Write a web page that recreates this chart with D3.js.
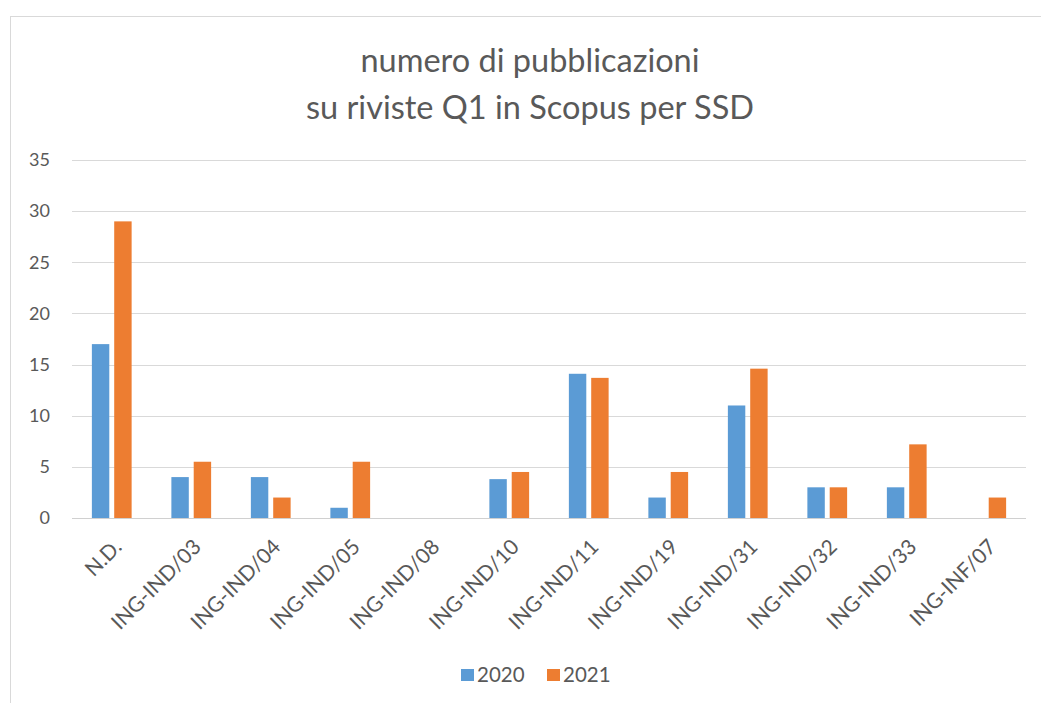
<!DOCTYPE html>
<html><head><meta charset="utf-8">
<script src="https://cdn.jsdelivr.net/npm/d3@7"></script>
<style>
html,body{margin:0;padding:0;background:#fff;}
svg{display:block;font-family:Lato,"Open Sans",sans-serif;}
</style></head>
<body>
<svg id="chart" width="1041" height="703"></svg>
<script>
const categories = ["N.D.","ING-IND/03","ING-IND/04","ING-IND/05","ING-IND/08","ING-IND/10","ING-IND/11","ING-IND/19","ING-IND/31","ING-IND/32","ING-IND/33","ING-INF/07"];
const series = ["2020","2021"];
const values2020 = [17, 4, 4, 1, 0, 3.8, 14.1, 2, 11, 3, 3, 0];
const values2021 = [29, 5.5, 2, 5.5, 0, 4.5, 13.7, 4.5, 14.6, 3, 7.2, 2];
const yTicks = [0,5,10,15,20,25,30,35];
const titleLines = ["numero di pubblicazioni","su riviste Q1 in Scopus per SSD"];
const colors = ["#5B9BD5","#ED7D31"];

const svg = d3.select("#chart");
const textColor = "#595959";

// outer chart frame (cropped at right/bottom like the reference)
svg.append("rect").attr("x",10.5).attr("y",16.5).attr("width",1100).attr("height",800)
  .attr("fill","#fff").attr("stroke","#D9D9D9").attr("stroke-width",1);

const plot = {left:72, right:1026, top:160, bottom:518};

const y = d3.scaleLinear().domain([0,35]).range([plot.bottom, plot.top]);
const x0 = d3.scaleBand().domain(categories).range([plot.left, plot.right]).padding(0);
const bw = x0.bandwidth();
const x1 = d3.scaleBand().domain(series).range([bw*0.25, bw*0.75]).paddingInner(0.22).paddingOuter(0);

// gridlines
svg.append("g").selectAll("line").data(yTicks).join("line")
  .attr("x1",plot.left).attr("x2",plot.right)
  .attr("y1",d=>Math.round(y(d))+0.5).attr("y2",d=>Math.round(y(d))+0.5)
  .attr("stroke",d=>d===0?"#D0D0D0":"#D9D9D9").attr("stroke-width",1);

// y tick labels
svg.append("g").selectAll("text").data(yTicks).join("text")
  .attr("x",50).attr("y",d=>y(d)).attr("dy","0.35em")
  .attr("text-anchor","end").attr("fill",textColor)
  .style("font-size","18px").text(d=>d);

// bars
const data = categories.map((c,i)=>({cat:c, vals:[values2020[i], values2021[i]]}));
const groups = svg.append("g").selectAll("g").data(data).join("g")
  .attr("transform",d=>`translate(${x0(d.cat)},0)`);
groups.selectAll("rect").data(d=>d.vals.map((v,j)=>({s:series[j], v, j}))).join("rect")
  .attr("x",d=>x1(d.s)).attr("width",x1.bandwidth())
  .attr("y",d=>y(d.v)).attr("height",d=>y(0)-y(d.v))
  .attr("fill",d=>colors[d.j]);

// x labels
svg.append("g").selectAll("text").data(categories).join("text")
  .attr("transform",d=>`translate(${x0(d)+bw/2+6},${plot.bottom+25}) rotate(-45)`)
  .attr("text-anchor","end").attr("dy","0.35em")
  .attr("fill",textColor).style("font-size","21px").text(d=>d);

// title
svg.append("g").selectAll("text").data(titleLines).join("text")
  .attr("x",530).attr("y",(d,i)=>72+i*47)
  .attr("text-anchor","middle").attr("fill",textColor)
  .style("font-size","32.5px").text(d=>d);

// legend
const legend = svg.append("g");
const legX = [461, 547];
series.forEach((s,i)=>{
  legend.append("rect").attr("x",legX[i]).attr("y",669).attr("width",13).attr("height",12).attr("fill",colors[i]);
  legend.append("text").attr("x",legX[i]+16).attr("y",675).attr("dy","0.35em")
    .attr("fill",textColor).style("font-size","20.5px").text(s);
});
</script>
</body></html>
